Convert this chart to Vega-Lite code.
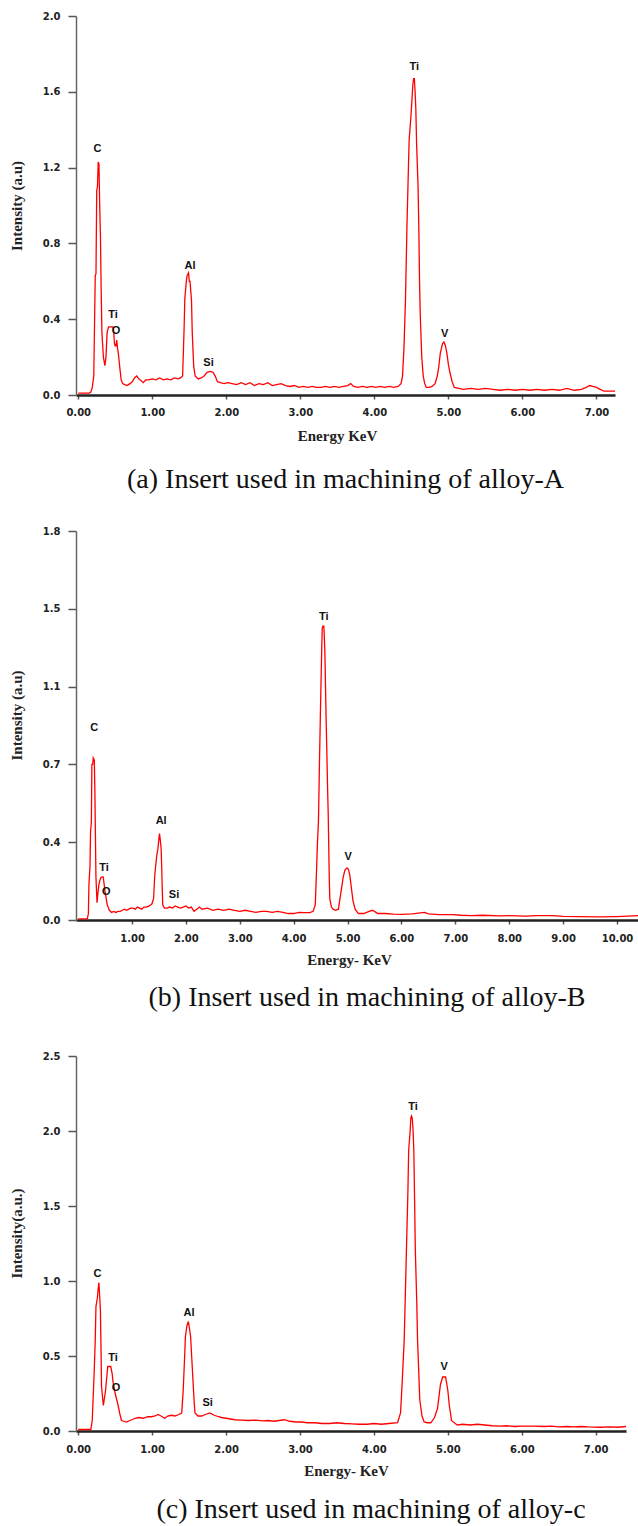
{
"$schema": "https://vega.github.io/schema/vega-lite/v6.json",
"background": "white",
"padding": {"top": 11, "left": 9, "right": 0, "bottom": 0},
"spacing": 136,
"bounds": "flush",
"config": {
 "view": {"stroke": null},
 "axis": {"grid": false, "labelFlush": false, "labelFont": "DejaVu Sans", "labelFontWeight": "bold", "labelFontSize": 10, "labelColor": "#222", "titleFont": "Liberation Serif", "titleFontSize": 15, "titleFontWeight": "bold", "titleColor": "#222", "tickColor": "#555", "tickWidth": 1.5},
 "axisX": {"domainColor": "#222", "domainWidth": 2.5, "tickSize": 4, "labelPadding": 8, "titlePadding": 11},
 "axisY": {"domainColor": "#666", "domainWidth": 1.5, "tickSize": 8, "labelPadding": 8, "titlePadding": 18},
 "title": {"font": "Liberation Serif", "fontSize": 28, "fontWeight": "normal", "color": "#111", "orient": "bottom", "anchor": "middle"}
},
"datasets": {
 "a": [
{"e":0,"i":0.01},{"e":0.05,"i":0.01},{"e":0.1,"i":0.01},{"e":0.15,"i":0.01},{"e":0.17,"i":0.015},{"e":0.19,"i":0.04},{"e":0.21,"i":0.1},{"e":0.23,"i":0.63},{"e":0.24,"i":0.64},{"e":0.25,"i":1.08},{"e":0.26,"i":1.1},{"e":0.27,"i":1.23},{"e":0.28,"i":1.22},{"e":0.29,"i":1.0},{"e":0.3,"i":0.84},{"e":0.31,"i":0.55},{"e":0.32,"i":0.33},{"e":0.34,"i":0.2},{"e":0.36,"i":0.155},{"e":0.375,"i":0.2},{"e":0.39,"i":0.33},{"e":0.41,"i":0.36},{"e":0.44,"i":0.36},{"e":0.47,"i":0.36},{"e":0.48,"i":0.33},{"e":0.49,"i":0.27},{"e":0.5,"i":0.26},{"e":0.51,"i":0.26},{"e":0.52,"i":0.29},{"e":0.53,"i":0.25},{"e":0.545,"i":0.21},{"e":0.56,"i":0.15},{"e":0.58,"i":0.08},{"e":0.6,"i":0.06},{"e":0.63,"i":0.055},{"e":0.66,"i":0.05},{"e":0.7,"i":0.06},{"e":0.73,"i":0.07},{"e":0.76,"i":0.09},{"e":0.79,"i":0.1},{"e":0.82,"i":0.085},{"e":0.85,"i":0.075},{"e":0.88,"i":0.065},{"e":0.91,"i":0.08},{"e":0.95,"i":0.08},{"e":1.0,"i":0.085},{"e":1.05,"i":0.08},{"e":1.1,"i":0.09},{"e":1.15,"i":0.08},{"e":1.2,"i":0.085},{"e":1.25,"i":0.08},{"e":1.3,"i":0.09},{"e":1.35,"i":0.085},{"e":1.38,"i":0.09},{"e":1.41,"i":0.1},{"e":1.43,"i":0.35},{"e":1.44,"i":0.51},{"e":1.46,"i":0.6},{"e":1.47,"i":0.63},{"e":1.49,"i":0.645},{"e":1.5,"i":0.6},{"e":1.51,"i":0.6},{"e":1.53,"i":0.5},{"e":1.54,"i":0.33},{"e":1.56,"i":0.15},{"e":1.58,"i":0.1},{"e":1.62,"i":0.085},{"e":1.66,"i":0.09},{"e":1.7,"i":0.1},{"e":1.74,"i":0.12},{"e":1.78,"i":0.125},{"e":1.82,"i":0.12},{"e":1.85,"i":0.1},{"e":1.88,"i":0.07},{"e":1.92,"i":0.065},{"e":1.97,"i":0.06},{"e":2.02,"i":0.065},{"e":2.08,"i":0.06},{"e":2.14,"i":0.055},{"e":2.2,"i":0.065},{"e":2.26,"i":0.055},{"e":2.32,"i":0.065},{"e":2.38,"i":0.05},{"e":2.44,"i":0.06},{"e":2.5,"i":0.055},{"e":2.56,"i":0.065},{"e":2.62,"i":0.05},{"e":2.68,"i":0.055},{"e":2.74,"i":0.06},{"e":2.8,"i":0.05},{"e":2.86,"i":0.045},{"e":2.92,"i":0.05},{"e":2.98,"i":0.04},{"e":3.04,"i":0.045},{"e":3.1,"i":0.04},{"e":3.16,"i":0.045},{"e":3.22,"i":0.04},{"e":3.28,"i":0.04},{"e":3.34,"i":0.045},{"e":3.4,"i":0.04},{"e":3.46,"i":0.045},{"e":3.52,"i":0.04},{"e":3.58,"i":0.045},{"e":3.64,"i":0.05},{"e":3.68,"i":0.06},{"e":3.72,"i":0.045},{"e":3.78,"i":0.04},{"e":3.84,"i":0.045},{"e":3.9,"i":0.04},{"e":3.96,"i":0.045},{"e":4.02,"i":0.04},{"e":4.08,"i":0.045},{"e":4.14,"i":0.04},{"e":4.2,"i":0.045},{"e":4.26,"i":0.04},{"e":4.32,"i":0.045},{"e":4.36,"i":0.06},{"e":4.38,"i":0.1},{"e":4.4,"i":0.25},{"e":4.42,"i":0.5},{"e":4.44,"i":0.89},{"e":4.46,"i":1.2},{"e":4.47,"i":1.35},{"e":4.49,"i":1.45},{"e":4.5,"i":1.51},{"e":4.52,"i":1.64},{"e":4.53,"i":1.67},{"e":4.54,"i":1.67},{"e":4.55,"i":1.6},{"e":4.56,"i":1.51},{"e":4.57,"i":1.33},{"e":4.59,"i":1.1},{"e":4.6,"i":0.89},{"e":4.61,"i":0.6},{"e":4.62,"i":0.42},{"e":4.64,"i":0.2},{"e":4.66,"i":0.1},{"e":4.68,"i":0.06},{"e":4.7,"i":0.04},{"e":4.74,"i":0.04},{"e":4.78,"i":0.045},{"e":4.82,"i":0.06},{"e":4.85,"i":0.1},{"e":4.87,"i":0.15},{"e":4.89,"i":0.22},{"e":4.92,"i":0.27},{"e":4.94,"i":0.28},{"e":4.96,"i":0.26},{"e":4.98,"i":0.22},{"e":5.0,"i":0.16},{"e":5.02,"i":0.12},{"e":5.05,"i":0.07},{"e":5.08,"i":0.04},{"e":5.14,"i":0.035},{"e":5.2,"i":0.03},{"e":5.3,"i":0.035},{"e":5.4,"i":0.03},{"e":5.5,"i":0.035},{"e":5.6,"i":0.03},{"e":5.7,"i":0.025},{"e":5.8,"i":0.03},{"e":5.9,"i":0.025},{"e":6.0,"i":0.03},{"e":6.1,"i":0.025},{"e":6.2,"i":0.03},{"e":6.3,"i":0.025},{"e":6.4,"i":0.03},{"e":6.5,"i":0.025},{"e":6.6,"i":0.035},{"e":6.7,"i":0.025},{"e":6.8,"i":0.03},{"e":6.86,"i":0.04},{"e":6.91,"i":0.05},{"e":6.95,"i":0.045},{"e":7.0,"i":0.04},{"e":7.05,"i":0.03},{"e":7.1,"i":0.02},{"e":7.2,"i":0.02},{"e":7.25,"i":0.02}
 ],
 "b": [
{"e":0,"i":0.005},{"e":0.1,"i":0.005},{"e":0.17,"i":0.005},{"e":0.19,"i":0.03},{"e":0.2,"i":0.165},{"e":0.22,"i":0.25},{"e":0.23,"i":0.41},{"e":0.245,"i":0.45},{"e":0.255,"i":0.72},{"e":0.27,"i":0.72},{"e":0.28,"i":0.75},{"e":0.3,"i":0.74},{"e":0.31,"i":0.6},{"e":0.32,"i":0.4},{"e":0.33,"i":0.2},{"e":0.35,"i":0.08},{"e":0.365,"i":0.12},{"e":0.385,"i":0.165},{"e":0.4,"i":0.18},{"e":0.42,"i":0.196},{"e":0.445,"i":0.2},{"e":0.465,"i":0.2},{"e":0.48,"i":0.17},{"e":0.5,"i":0.13},{"e":0.52,"i":0.1},{"e":0.54,"i":0.07},{"e":0.58,"i":0.045},{"e":0.62,"i":0.035},{"e":0.66,"i":0.04},{"e":0.7,"i":0.035},{"e":0.74,"i":0.04},{"e":0.78,"i":0.04},{"e":0.82,"i":0.045},{"e":0.86,"i":0.05},{"e":0.9,"i":0.045},{"e":0.94,"i":0.05},{"e":0.98,"i":0.055},{"e":1.02,"i":0.055},{"e":1.06,"i":0.05},{"e":1.1,"i":0.06},{"e":1.14,"i":0.055},{"e":1.18,"i":0.05},{"e":1.22,"i":0.06},{"e":1.27,"i":0.06},{"e":1.32,"i":0.065},{"e":1.37,"i":0.075},{"e":1.4,"i":0.1},{"e":1.42,"i":0.2},{"e":1.43,"i":0.23},{"e":1.46,"i":0.3},{"e":1.48,"i":0.33},{"e":1.5,"i":0.38},{"e":1.51,"i":0.4},{"e":1.52,"i":0.38},{"e":1.54,"i":0.33},{"e":1.55,"i":0.25},{"e":1.56,"i":0.15},{"e":1.57,"i":0.07},{"e":1.6,"i":0.055},{"e":1.65,"i":0.055},{"e":1.7,"i":0.06},{"e":1.75,"i":0.055},{"e":1.8,"i":0.065},{"e":1.85,"i":0.06},{"e":1.9,"i":0.055},{"e":1.95,"i":0.06},{"e":2.0,"i":0.065},{"e":2.05,"i":0.055},{"e":2.1,"i":0.06},{"e":2.15,"i":0.04},{"e":2.2,"i":0.05},{"e":2.25,"i":0.06},{"e":2.3,"i":0.05},{"e":2.4,"i":0.055},{"e":2.5,"i":0.045},{"e":2.6,"i":0.05},{"e":2.7,"i":0.045},{"e":2.8,"i":0.05},{"e":2.9,"i":0.045},{"e":3.0,"i":0.04},{"e":3.1,"i":0.045},{"e":3.2,"i":0.04},{"e":3.3,"i":0.035},{"e":3.4,"i":0.04},{"e":3.5,"i":0.04},{"e":3.6,"i":0.035},{"e":3.7,"i":0.04},{"e":3.8,"i":0.035},{"e":3.9,"i":0.03},{"e":4.0,"i":0.03},{"e":4.1,"i":0.035},{"e":4.2,"i":0.034},{"e":4.3,"i":0.034},{"e":4.36,"i":0.04},{"e":4.4,"i":0.07},{"e":4.42,"i":0.2},{"e":4.44,"i":0.35},{"e":4.46,"i":0.46},{"e":4.48,"i":0.75},{"e":4.5,"i":1.01},{"e":4.52,"i":1.25},{"e":4.53,"i":1.35},{"e":4.54,"i":1.36},{"e":4.56,"i":1.36},{"e":4.57,"i":1.3},{"e":4.58,"i":1.23},{"e":4.6,"i":0.95},{"e":4.61,"i":0.84},{"e":4.63,"i":0.6},{"e":4.64,"i":0.5},{"e":4.66,"i":0.2},{"e":4.67,"i":0.1},{"e":4.7,"i":0.06},{"e":4.73,"i":0.05},{"e":4.78,"i":0.045},{"e":4.83,"i":0.05},{"e":4.86,"i":0.1},{"e":4.89,"i":0.15},{"e":4.92,"i":0.2},{"e":4.95,"i":0.23},{"e":4.98,"i":0.24},{"e":5.0,"i":0.24},{"e":5.02,"i":0.23},{"e":5.04,"i":0.21},{"e":5.07,"i":0.15},{"e":5.1,"i":0.09},{"e":5.14,"i":0.05},{"e":5.2,"i":0.03},{"e":5.3,"i":0.03},{"e":5.4,"i":0.04},{"e":5.46,"i":0.045},{"e":5.5,"i":0.04},{"e":5.56,"i":0.03},{"e":5.7,"i":0.03},{"e":5.85,"i":0.027},{"e":6.0,"i":0.026},{"e":6.2,"i":0.028},{"e":6.43,"i":0.035},{"e":6.5,"i":0.028},{"e":6.7,"i":0.025},{"e":6.96,"i":0.025},{"e":7.1,"i":0.022},{"e":7.3,"i":0.02},{"e":7.5,"i":0.022},{"e":7.82,"i":0.019},{"e":8.0,"i":0.02},{"e":8.3,"i":0.018},{"e":8.5,"i":0.02},{"e":8.81,"i":0.02},{"e":9.0,"i":0.017},{"e":9.3,"i":0.016},{"e":9.67,"i":0.014},{"e":10.0,"i":0.016},{"e":10.39,"i":0.02}
 ],
 "c": [
{"e":0,"i":0.01},{"e":0.1,"i":0.01},{"e":0.17,"i":0.01},{"e":0.19,"i":0.07},{"e":0.2,"i":0.2},{"e":0.215,"i":0.38},{"e":0.23,"i":0.6},{"e":0.24,"i":0.83},{"e":0.26,"i":0.89},{"e":0.27,"i":0.95},{"e":0.28,"i":0.99},{"e":0.29,"i":0.9},{"e":0.3,"i":0.81},{"e":0.31,"i":0.5},{"e":0.315,"i":0.3},{"e":0.34,"i":0.17},{"e":0.355,"i":0.22},{"e":0.37,"i":0.27},{"e":0.39,"i":0.38},{"e":0.4,"i":0.43},{"e":0.44,"i":0.43},{"e":0.46,"i":0.38},{"e":0.47,"i":0.33},{"e":0.5,"i":0.25},{"e":0.52,"i":0.21},{"e":0.54,"i":0.17},{"e":0.56,"i":0.12},{"e":0.585,"i":0.07},{"e":0.62,"i":0.065},{"e":0.65,"i":0.06},{"e":0.7,"i":0.07},{"e":0.77,"i":0.085},{"e":0.82,"i":0.09},{"e":0.88,"i":0.085},{"e":0.94,"i":0.095},{"e":0.99,"i":0.095},{"e":1.04,"i":0.1},{"e":1.08,"i":0.11},{"e":1.12,"i":0.1},{"e":1.17,"i":0.085},{"e":1.21,"i":0.1},{"e":1.26,"i":0.105},{"e":1.31,"i":0.1},{"e":1.36,"i":0.11},{"e":1.4,"i":0.12},{"e":1.42,"i":0.27},{"e":1.44,"i":0.5},{"e":1.45,"i":0.63},{"e":1.47,"i":0.7},{"e":1.49,"i":0.73},{"e":1.5,"i":0.7},{"e":1.52,"i":0.63},{"e":1.54,"i":0.45},{"e":1.55,"i":0.36},{"e":1.57,"i":0.18},{"e":1.58,"i":0.12},{"e":1.62,"i":0.1},{"e":1.67,"i":0.1},{"e":1.72,"i":0.11},{"e":1.78,"i":0.12},{"e":1.84,"i":0.105},{"e":1.9,"i":0.095},{"e":1.94,"i":0.09},{"e":2.0,"i":0.085},{"e":2.06,"i":0.08},{"e":2.12,"i":0.075},{"e":2.21,"i":0.073},{"e":2.3,"i":0.07},{"e":2.4,"i":0.072},{"e":2.5,"i":0.068},{"e":2.57,"i":0.07},{"e":2.65,"i":0.065},{"e":2.72,"i":0.07},{"e":2.79,"i":0.075},{"e":2.86,"i":0.065},{"e":2.95,"i":0.06},{"e":3.02,"i":0.06},{"e":3.1,"i":0.055},{"e":3.2,"i":0.055},{"e":3.3,"i":0.05},{"e":3.4,"i":0.05},{"e":3.5,"i":0.055},{"e":3.6,"i":0.05},{"e":3.7,"i":0.048},{"e":3.8,"i":0.045},{"e":3.91,"i":0.045},{"e":4.0,"i":0.05},{"e":4.1,"i":0.045},{"e":4.2,"i":0.05},{"e":4.32,"i":0.055},{"e":4.36,"i":0.12},{"e":4.38,"i":0.3},{"e":4.41,"i":0.61},{"e":4.44,"i":1.21},{"e":4.46,"i":1.6},{"e":4.47,"i":1.87},{"e":4.49,"i":2.0},{"e":4.5,"i":2.09},{"e":4.51,"i":2.1},{"e":4.52,"i":2.08},{"e":4.53,"i":2.0},{"e":4.54,"i":1.87},{"e":4.55,"i":1.55},{"e":4.56,"i":1.21},{"e":4.58,"i":0.85},{"e":4.59,"i":0.61},{"e":4.61,"i":0.35},{"e":4.62,"i":0.21},{"e":4.65,"i":0.1},{"e":4.68,"i":0.06},{"e":4.72,"i":0.055},{"e":4.77,"i":0.055},{"e":4.82,"i":0.09},{"e":4.86,"i":0.15},{"e":4.9,"i":0.31},{"e":4.93,"i":0.36},{"e":4.97,"i":0.36},{"e":5.0,"i":0.27},{"e":5.02,"i":0.17},{"e":5.05,"i":0.07},{"e":5.1,"i":0.05},{"e":5.13,"i":0.04},{"e":5.2,"i":0.045},{"e":5.3,"i":0.04},{"e":5.4,"i":0.045},{"e":5.5,"i":0.04},{"e":5.6,"i":0.035},{"e":5.71,"i":0.033},{"e":5.8,"i":0.035},{"e":5.9,"i":0.03},{"e":6.0,"i":0.033},{"e":6.16,"i":0.033},{"e":6.3,"i":0.03},{"e":6.4,"i":0.032},{"e":6.5,"i":0.028},{"e":6.61,"i":0.03},{"e":6.7,"i":0.028},{"e":6.8,"i":0.03},{"e":6.9,"i":0.027},{"e":7.06,"i":0.025},{"e":7.2,"i":0.028},{"e":7.3,"i":0.025},{"e":7.41,"i":0.03}
 ]
},
"vconcat": [
 {
  "width": 539, "height": 379,
  "title": {"text": "(a) Insert used in machining of alloy-A", "offset": 23},
  "layer": [
   {"data": {"name": "a"},
    "mark": {"type": "line", "color": "#ff0000", "strokeWidth": 1.3},
    "encoding": {
     "x": {"field": "e", "type": "quantitative", "scale": {"domain": [-0.03, 7.25], "nice": false, "zero": false},
           "axis": {"title": "Energy KeV", "values": [0,1,2,3,4,5,6,7], "format": ".2f", "titleX": 261}},
     "y": {"field": "i", "type": "quantitative", "scale": {"domain": [0, 2], "nice": false},
           "axis": {"title": "Intensity (a.u)", "values": [0,0.4,0.8,1.2,1.6,2.0], "format": ".1f"}}
    }},
   {"data": {"values": [
     {"e":0.26,"i":1.3,"t":"C"},{"e":0.47,"i":0.42,"t":"Ti"},{"e":0.51,"i":0.34,"t":"O"},{"e":1.51,"i":0.68,"t":"Al"},{"e":1.76,"i":0.17,"t":"Si"},{"e":4.54,"i":1.73,"t":"Ti"},{"e":4.95,"i":0.32,"t":"V"}]},
    "mark": {"type": "text", "font": "Liberation Sans", "fontWeight": "bold", "fontSize": 11, "color": "#111", "align": "center", "baseline": "middle"},
    "encoding": {"x": {"field": "e", "type": "quantitative"}, "y": {"field": "i", "type": "quantitative"}, "text": {"field": "t"}}}
  ]
 },
 {
  "width": 562, "height": 389,
  "title": {"text": "(b) Insert used in machining of alloy-B", "offset": 17, "dx": 10},
  "layer": [
   {"data": {"name": "b"},
    "mark": {"type": "line", "color": "#ff0000", "strokeWidth": 1.3},
    "encoding": {
     "x": {"field": "e", "type": "quantitative", "scale": {"domain": [-0.04, 10.39], "nice": false, "zero": false},
           "axis": {"title": "Energy- KeV", "values": [1,2,3,4,5,6,7,8,9,10], "format": ".2f", "labelPadding": 9, "titlePadding": 9, "titleX": 273}},
     "y": {"field": "i", "type": "quantitative", "scale": {"domain": [0, 1.8], "nice": false},
           "axis": {"title": "Intensity (a.u)", "values": [0,0.36,0.72,1.08,1.44,1.8], "labelExpr": "datum.value == 0 ? '0.0' : datum.value < 0.5 ? '0.4' : datum.value < 0.8 ? '0.7' : datum.value < 1.2 ? '1.1' : datum.value < 1.6 ? '1.5' : '1.8'", "titleY": 184}}
    }},
   {"data": {"values": [
     {"e":0.3,"i":0.89,"t":"C"},{"e":0.48,"i":0.24,"t":"Ti"},{"e":0.52,"i":0.13,"t":"O"},{"e":1.54,"i":0.46,"t":"Al"},{"e":1.78,"i":0.115,"t":"Si"},{"e":4.56,"i":1.4,"t":"Ti"},{"e":5.01,"i":0.29,"t":"V"}]},
    "mark": {"type": "text", "font": "Liberation Sans", "fontWeight": "bold", "fontSize": 11, "color": "#111", "align": "center", "baseline": "middle"},
    "encoding": {"x": {"field": "e", "type": "quantitative"}, "y": {"field": "i", "type": "quantitative"}, "text": {"field": "t"}}}
  ]
 },
 {
  "width": 550, "height": 375,
  "title": {"text": "(c) Insert used in machining of alloy-c", "offset": 17.5, "dx": 20},
  "layer": [
   {"data": {"name": "c"},
    "mark": {"type": "line", "color": "#ff0000", "strokeWidth": 1.3},
    "encoding": {
     "x": {"field": "e", "type": "quantitative", "scale": {"domain": [-0.03, 7.41], "nice": false, "zero": false},
           "axis": {"title": "Energy- KeV", "values": [0,1,2,3,4,5,6,7], "format": ".2f", "labelPadding": 9, "titlePadding": 9, "titleX": 270}},
     "y": {"field": "i", "type": "quantitative", "scale": {"domain": [0, 2.5], "nice": false},
           "axis": {"title": "Intensity(a.u.)", "values": [0,0.5,1,1.5,2,2.5], "format": ".1f", "titleY": 177}}
    }},
   {"data": {"values": [
     {"e":0.26,"i":1.05,"t":"C"},{"e":0.47,"i":0.49,"t":"Ti"},{"e":0.51,"i":0.29,"t":"O"},{"e":1.5,"i":0.79,"t":"Al"},{"e":1.75,"i":0.19,"t":"Si"},{"e":4.53,"i":2.16,"t":"Ti"},{"e":4.95,"i":0.43,"t":"V"}]},
    "mark": {"type": "text", "font": "Liberation Sans", "fontWeight": "bold", "fontSize": 11, "color": "#111", "align": "center", "baseline": "middle"},
    "encoding": {"x": {"field": "e", "type": "quantitative"}, "y": {"field": "i", "type": "quantitative"}, "text": {"field": "t"}}}
  ]
 }
]
}
